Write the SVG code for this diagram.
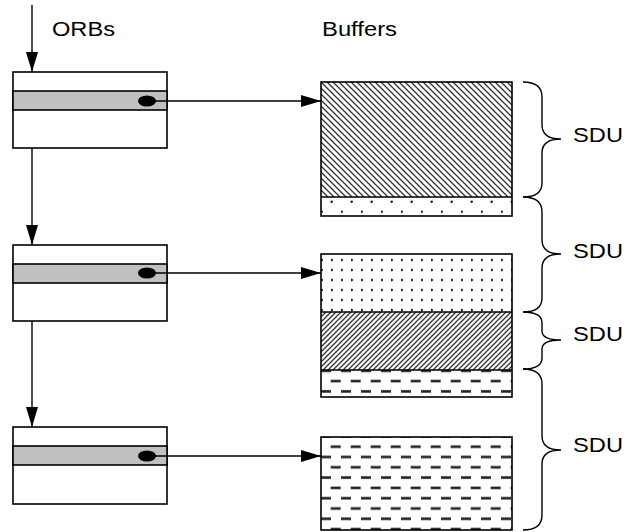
<svg xmlns="http://www.w3.org/2000/svg" width="626" height="532" viewBox="0 0 626 532">
<style>
.box{fill:#fff;stroke:#000;stroke-width:1.6}
.band{fill:#c0c0c0;stroke:#000;stroke-width:1.6}
.conn{fill:none;stroke:#000;stroke-width:1.4}
.brace{fill:none;stroke:#000;stroke-width:1.4}
.lbl{font-family:"Liberation Sans",Arial,sans-serif;font-size:20.5px;fill:#000}
.frame{fill:none;stroke:#000;stroke-width:1.6}
</style>
<defs>
<marker id="ah" markerWidth="20" markerHeight="12" refX="20" refY="6" orient="auto" markerUnits="userSpaceOnUse">
<path d="M0,0 L20,6 L0,12 Z" fill="#000"/>
</marker>
<pattern id="hatchA" patternUnits="userSpaceOnUse" x="321" y="82" width="6" height="6">
<path d="M-1,-1 L7,7 M-1,5 L1,7 M5,-1 L7,1" stroke="#333" stroke-width="1.3"/>
</pattern>
<pattern id="hatchB" patternUnits="userSpaceOnUse" x="321" y="312" width="5" height="5">
<path d="M-1,6 L6,-1 M-1,1 L1,-1 M4,6 L6,4" stroke="#333" stroke-width="1.3"/>
</pattern>
<pattern id="dotsA" patternUnits="userSpaceOnUse" x="321" y="197" width="20" height="20">
<circle cx="10.7" cy="4.7" r="1.3" fill="#222"/>
<circle cx="0.7" cy="14.7" r="1.3" fill="#222"/>
</pattern>
<pattern id="dotsB" patternUnits="userSpaceOnUse" x="321" y="254" width="10" height="10">
<circle cx="0.7" cy="6" r="1.3" fill="#222"/>
</pattern>
<pattern id="dashA" patternUnits="userSpaceOnUse" x="321" y="366.4" width="20" height="20.6">
<rect x="9.7" y="13.4" width="10" height="2.6" fill="#222"/>
<rect x="0" y="3.1" width="10" height="2.6" fill="#222"/>
</pattern>
<pattern id="dashB" patternUnits="userSpaceOnUse" x="321" y="432" width="20" height="20.6">
<rect x="9.7" y="13.4" width="10" height="2.6" fill="#222"/>
<rect x="0" y="3.1" width="10" height="2.6" fill="#222"/>
</pattern>
</defs>

<g id="labels">
<text class="lbl" x="52" y="36" textLength="63" lengthAdjust="spacingAndGlyphs">ORBs</text>
<text class="lbl" x="322" y="36" textLength="75" lengthAdjust="spacingAndGlyphs">Buffers</text>
</g>

<g id="orb1">
<rect class="box" x="13" y="72" width="154" height="76"/>
<rect class="band" x="13" y="91" width="154" height="19"/>
<ellipse cx="147" cy="101" rx="9" ry="5.5" fill="#000"/>
</g>
<g id="orb2">
<rect class="box" x="13" y="245" width="154" height="76"/>
<rect class="band" x="13" y="264" width="154" height="19"/>
<ellipse cx="147" cy="273" rx="9" ry="5.5" fill="#000"/>
</g>
<g id="orb3">
<rect class="box" x="13" y="427" width="154" height="77"/>
<rect class="band" x="13" y="446" width="154" height="19"/>
<ellipse cx="147" cy="456" rx="9" ry="5.5" fill="#000"/>
</g>

<g id="buffer1">
<rect x="321" y="82" width="191" height="115" fill="url(#hatchA)"/>
<rect x="321" y="197" width="191" height="19" fill="url(#dotsA)"/>
<rect class="frame" x="321" y="82" width="191" height="134"/>
<line class="frame" x1="321" y1="197" x2="512" y2="197"/>
</g>
<g id="buffer2">
<rect x="321" y="254" width="191" height="58" fill="url(#dotsB)"/>
<rect x="321" y="312" width="191" height="58" fill="url(#hatchB)"/>
<rect x="321" y="370" width="191" height="27" fill="url(#dashA)"/>
<rect class="frame" x="321" y="254" width="191" height="143"/>
<line class="frame" x1="321" y1="312" x2="512" y2="312"/>
<line class="frame" x1="321" y1="370" x2="512" y2="370"/>
</g>
<g id="buffer3">
<rect x="321" y="437" width="191" height="93" fill="url(#dashB)"/>
<rect class="frame" x="321" y="437" width="191" height="93"/>
</g>

<g id="braces">
<path class="brace" d="M523,82 Q542,82 542,97 L542,125 Q542,139 561,139 Q542,139 542,153 L542,183 Q542,197 523,197"/>
<path class="brace" d="M523,197 Q542,197 542,212 L542,240 Q542,254 561,254 Q542,254 542,268 L542,298 Q542,312 523,312"/>
<path class="brace" d="M523,312 Q542,312 542,323 L542,331 Q542,340 561,340 Q542,340 542,349 L542,358 Q542,369 523,369"/>
<path class="brace" d="M523,369 Q542,369 542,384 L542,436 Q542,450 561,450 Q542,450 542,464 L542,515 Q542,530 523,530"/>
<text class="lbl" x="573" y="142" textLength="50" lengthAdjust="spacingAndGlyphs">SDU</text>
<text class="lbl" x="573" y="258" textLength="50" lengthAdjust="spacingAndGlyphs">SDU</text>
<text class="lbl" x="573" y="341" textLength="50" lengthAdjust="spacingAndGlyphs">SDU</text>
<text class="lbl" x="573" y="452" textLength="50" lengthAdjust="spacingAndGlyphs">SDU</text>
</g>

<g id="connectors">
<line class="conn" x1="32" y1="5" x2="32" y2="72" marker-end="url(#ah)"/>
<line class="conn" x1="32" y1="148" x2="32" y2="245" marker-end="url(#ah)"/>
<line class="conn" x1="32" y1="321" x2="32" y2="427" marker-end="url(#ah)"/>
<line class="conn" x1="150" y1="101" x2="321" y2="101" marker-end="url(#ah)"/>
<line class="conn" x1="150" y1="273" x2="321" y2="273" marker-end="url(#ah)"/>
<line class="conn" x1="150" y1="456" x2="321" y2="456" marker-end="url(#ah)"/>
</g>
</svg>
